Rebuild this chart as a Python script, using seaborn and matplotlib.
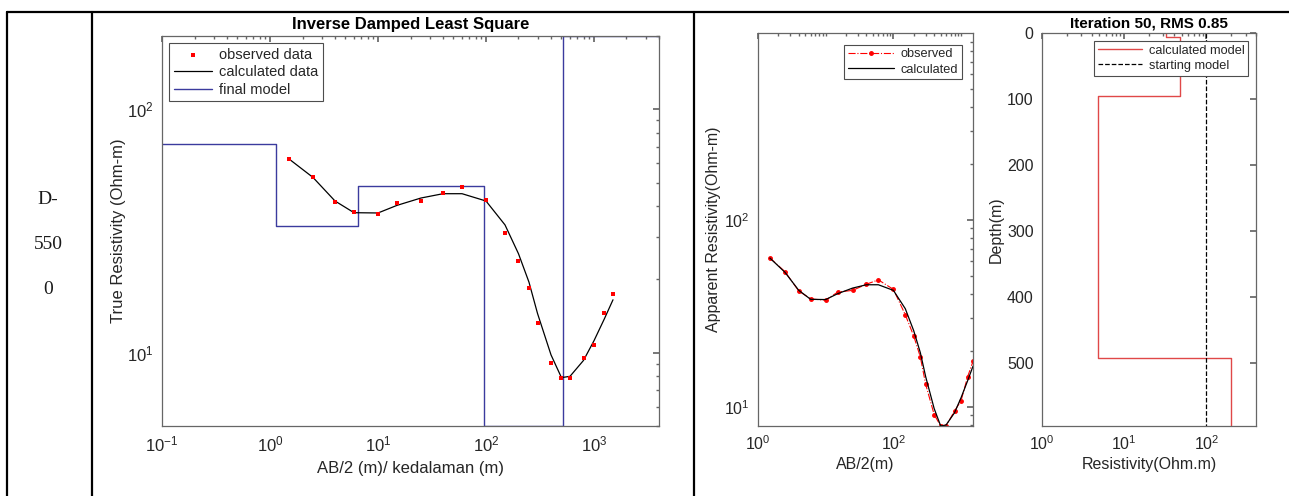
import numpy as np
import matplotlib
matplotlib.use("Agg")
import matplotlib.pyplot as plt
from matplotlib.lines import Line2D
from matplotlib.ticker import LogLocator, NullFormatter
import seaborn as sns

# observed sounding data (AB/2 in m, apparent resistivity in Ohm-m)
ab2 = [1.5, 2.5, 4, 6, 10, 15, 25, 40, 60, 100, 150, 200, 250, 300, 400,
       500, 600, 800, 1000, 1250, 1500]
rho_obs = [62.6, 52.9, 41.7, 37.8, 37.2, 41.1, 42.0, 45.3, 47.8, 42.5, 31.1,
           23.9, 18.5, 13.2, 9.1, 7.9, 7.9, 9.5, 10.8, 14.5, 17.5]
rho_calc = [62.5, 52.5, 42.0, 37.6, 37.5, 40.3, 43.2, 45.0, 45.0, 42.0, 33.5,
            25.5, 19.5, 14.5, 9.8, 7.9, 8.0, 9.3, 11.2, 13.8, 16.5]

# final model of the damped least square inversion
model_edges = [0.1, 1.14, 6.5, 96, 516, 4000]
model_rho = [72, 33, 48.5, 5, 200]

# layered model from the 50 iteration run
layer_depth = [0, 5.6, 95.7, 493, 596]
layer_rho = [31.8, 47.9, 4.77, 201]
start_rho = 100

sns.set_theme(style="white")
plt.rcParams['font.family'] = ['Liberation Sans', 'DejaVu Sans']
plt.rcParams['mathtext.default'] = 'regular'

AX_COL = '0.4'
TXT_COL = '#262626'

fig = plt.figure(figsize=(12.89, 4.96), dpi=100)
W, H = 1289, 496


def box(x0, y0, x1, y1):
    return [x0 / W, 1 - y1 / H, (x1 - x0) / W, (y1 - y0) / H]


def matlab_axes(ax, fs):
    for s in ax.spines.values():
        s.set_color(AX_COL)
        s.set_linewidth(0.9)
    ax.tick_params(which='both', direction='in', top=True, right=True,
                   colors=AX_COL, labelcolor=TXT_COL, labelsize=fs, pad=6)
    ax.tick_params(which='major', length=4)
    ax.tick_params(which='minor', length=2)


def legend_box(ax, loc, fs, hl, pad):
    leg = ax.legend(loc=loc, fontsize=fs, frameon=True, fancybox=False,
                    framealpha=1, edgecolor='0.3', handlelength=hl,
                    handletextpad=0.5, borderaxespad=pad, borderpad=0.3,
                    labelspacing=0.25)
    leg.get_frame().set_linewidth(0.8)


# table grid
lw = 1.6
fig.add_artist(Line2D([7 / W, 1], [1 - 12 / H] * 2, color='black', lw=lw))
for xp in [7, 92, 694]:
    fig.add_artist(Line2D([xp / W] * 2, [0, 1 - 12 / H], color='black', lw=lw))
for i, t in enumerate(["D-", "550", "0"]):
    fig.text(48 / W, 1 - (200 + 45 * i) / H, t, ha='center', va='center',
             fontsize=14, family='Liberation Serif', color='#1a1a1a')

# --- panel 1 ---
ax1 = fig.add_axes(box(162, 36, 659, 426))
ax1.set_xscale('log')
ax1.set_yscale('log')
sns.scatterplot(x=ab2, y=rho_obs, ax=ax1, color='red', s=9, linewidth=0,
                marker='s', label='observed data', zorder=4)
sns.lineplot(x=ab2, y=rho_calc, ax=ax1, color='black', lw=0.9,
             label='calculated data', zorder=3)
ax1.step(model_edges, model_rho + [model_rho[-1]], where='post',
         color='#3b3b9e', lw=1.0, label='final model')
ax1.set_xlim(0.1, 4000)
ax1.set_ylim(5, 200)
matlab_axes(ax1, 12)
ax1.set_xlabel('AB/2 (m)/ kedalaman (m)', fontsize=12, color=TXT_COL, labelpad=5)
ax1.set_ylabel('True Resistivity (Ohm-m)', fontsize=12, color=TXT_COL, labelpad=1)
ax1.set_title('Inverse Damped Least Square', fontsize=12, fontweight='bold',
              color='black', pad=5)
ax1.yaxis.set_minor_formatter(NullFormatter())
legend_box(ax1, 'upper left', 10.5, 2.6, 0.5)

# --- panel 2 ---
ax2 = fig.add_axes(box(758, 33, 973, 426))
ax2.set_xscale('log')
ax2.set_yscale('log')
ax2.plot(ab2, rho_obs, color='red', ls='-.', lw=0.8, marker='.', ms=5,
         label='observed')
sns.lineplot(x=ab2, y=rho_calc, ax=ax2, color='black', lw=0.9,
             label='calculated')
ax2.set_xlim(1, 1500)
ax2.set_ylim(min(rho_calc), 1000)
matlab_axes(ax2, 11.5)
ax2.set_yticks([10, 100])
ax2.xaxis.set_major_locator(LogLocator(base=100))
ax2.xaxis.set_minor_locator(LogLocator(base=10, subs=np.arange(1, 10)))
ax2.xaxis.set_minor_formatter(NullFormatter())
ax2.yaxis.set_minor_formatter(NullFormatter())
ax2.set_xlabel('AB/2(m)', fontsize=11.5, color=TXT_COL, labelpad=3)
ax2.set_ylabel('Apparent Resistivity(Ohm-m)', fontsize=11.5, color=TXT_COL,
               labelpad=2)
legend_box(ax2, 'upper right', 9.2, 3.6, 0.9)

# --- panel 3 ---
ax3 = fig.add_axes(box(1042, 33, 1256, 426))
ax3.set_xscale('log')
prof_x = np.repeat(layer_rho, 2)
prof_y = np.repeat(layer_depth, 2)[1:-1]
ax3.plot(prof_x, prof_y, color='#e04848', lw=1.0, label='calculated model')
ax3.plot([start_rho, start_rho], [layer_depth[0], layer_depth[-1]],
         color='black', ls='--', lw=0.9, label='starting model')
ax3.set_xlim(1, 400)
ax3.set_ylim(layer_depth[-1], 0)
matlab_axes(ax3, 11.5)
ax3.set_yticks([0, 100, 200, 300, 400, 500])
ax3.xaxis.set_minor_formatter(NullFormatter())
ax3.set_xlabel('Resistivity(Ohm.m)', fontsize=11.5, color=TXT_COL, labelpad=3)
ax3.set_ylabel('Depth(m)', fontsize=11.5, color=TXT_COL, labelpad=2)
ax3.set_title('Iteration 50, RMS 0.85', fontsize=11, fontweight='bold',
              color='black', pad=4)
legend_box(ax3, 'upper right', 9.2, 3.5, 0.6)

fig.savefig('out.png', dpi=100)
